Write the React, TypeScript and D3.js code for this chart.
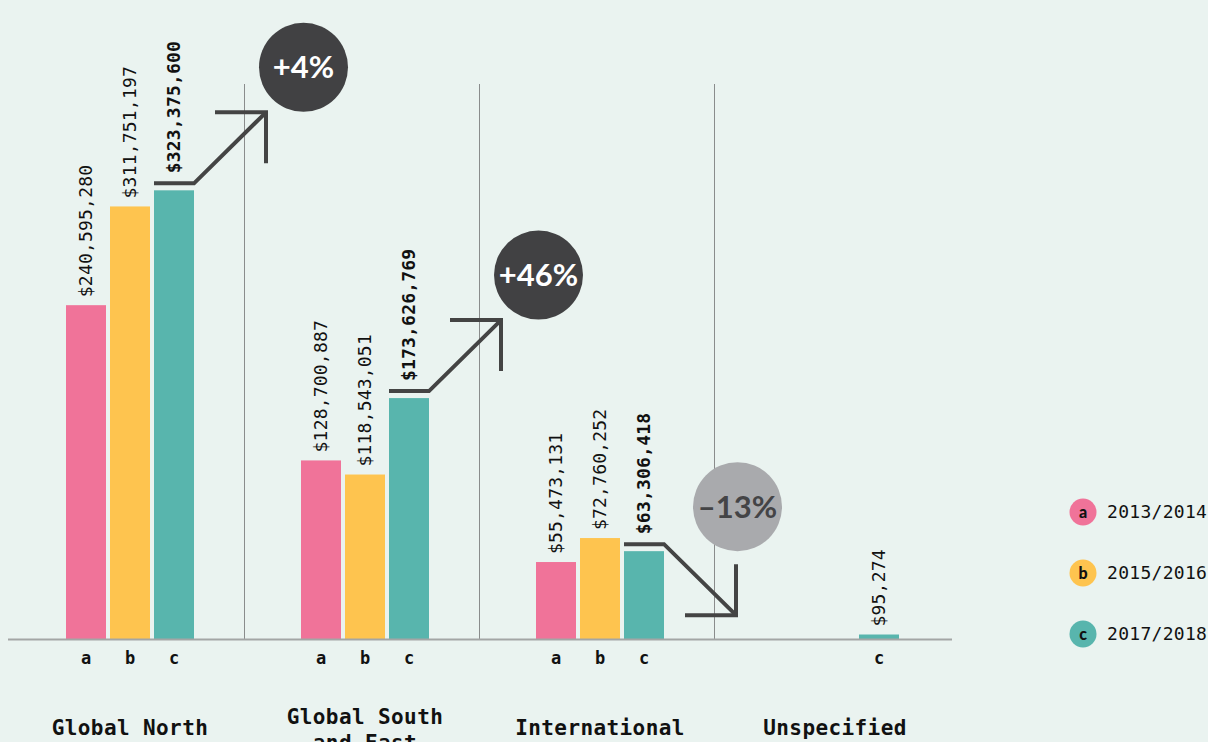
import React from "react";
import * as d3 from "d3";

const groups = ["Global North", "Global South and East", "International", "Unspecified"];
const groupLabelLines = [["Global North"], ["Global South", "and East"], ["International"], ["Unspecified"]];
const periods = ["a", "b", "c"];
const periodLabels = ["2013/2014", "2015/2016", "2017/2018"];
const periodColors = ["#f07399", "#fec44f", "#58b5ad"];
const valuesA: (number | null)[] = [240595280, 128700887, 55473131, null];
const valuesB: (number | null)[] = [311751197, 118543051, 72760252, null];
const valuesC: (number | null)[] = [323375600, 173626769, 63306418, 95274];

const W = 1208;
const H = 742;
const BG = "#eaf3f0";
const MONO = "'DejaVu Sans Mono', 'Liberation Mono', monospace";
const SANS = "Lato, 'Open Sans', sans-serif";

export default function App() {
  const series = [valuesA, valuesB, valuesC];
  const x0 = d3.scaleBand<string>().domain(groups).range([9, 949]).paddingInner(0).paddingOuter(0);
  const x1 = d3.scaleBand<string>().domain(periods).range([0, 128]).paddingInner(4 / 44).paddingOuter(0);
  const y = d3.scaleLinear().domain([0, 400e6]).range([639, 84]);
  const base = y(0);
  const fmt = d3.format("$,");
  const barX = (gi: number, pi: number) => (x0(groups[gi]) as number) + 57 + (x1(periods[pi]) as number);
  const bw = x1.bandwidth();
  const barTop = (v: number) => Math.min(y(v), base - 4.5);

  const bars: React.ReactNode[] = [];
  const labels: React.ReactNode[] = [];
  const arrows: React.ReactNode[] = [];
  const tickLabels: React.ReactNode[] = [];

  groups.forEach((g, gi) => {
    const b = valuesB[gi];
    const c = valuesC[gi];
    const hasArrow = b != null && c != null;
    periods.forEach((p, pi) => {
      const v = series[pi][gi];
      if (v == null) return;
      const bx = barX(gi, pi);
      const top = barTop(v);
      bars.push(
        <rect key={`b${gi}${pi}`} x={bx} y={top} width={bw} height={base - top} fill={periodColors[pi]} />
      );
      const bold = pi === 2 && hasArrow;
      const ly = top - (bold ? 17 : 8);
      const cx = bx + bw / 2;
      labels.push(
        <text
          key={`l${gi}${pi}`}
          transform={`translate(${cx},${ly}) rotate(-90)`}
          dy="0.36em"
          fontFamily={MONO}
          fontSize={18}
          fontWeight={bold ? 700 : 400}
          letterSpacing={0.2}
          fill="#111"
        >
          {fmt(v)}
        </text>
      );
      tickLabels.push(
        <text key={`t${gi}${pi}`} x={cx} y={664} textAnchor="middle" fontFamily={MONO} fontSize={17} fontWeight={700} fill="#111">
          {p}
        </text>
      );
    });
    if (hasArrow) {
      const cTop = barTop(c as number);
      const tx0 = barX(gi, 2);
      const tx1 = tx0 + bw;
      const ty = cTop - 7;
      const up = (c as number) >= (b as number);
      const ax = tx1 + 72;
      const ay = up ? ty - 71 : ty + 71;
      const pct = Math.round(((c as number) / (b as number) - 1) * 100);
      const txt = (pct >= 0 ? "+" : "\u2013") + Math.abs(pct) + "%";
      const ccx = up ? ax + 37.5 : ax + 1.5;
      const ccy = up ? ay - 45 : ay - 108.5;
      arrows.push(
        <g key={`a${gi}`}>
          <path
            d={`M${tx0},${ty}H${tx1}L${ax},${ay}`}
            fill="none"
            stroke="#444"
            strokeWidth={4}
            strokeLinejoin="miter"
          />
          <path
            d={`M${ax - 51},${ay}H${ax}V${up ? ay + 51 : ay - 51}`}
            fill="none"
            stroke="#444"
            strokeWidth={4}
            strokeLinejoin="miter"
          />
          <circle cx={ccx} cy={ccy} r={44.5} fill={up ? "#414143" : "#a9aaad"} />
          <text
            x={ccx}
            y={ccy}
            dy="0.36em"
            textAnchor="middle"
            fontFamily={SANS}
            fontSize={31}
            fontWeight={700}
            fill={up ? "#ffffff" : "#444446"}
          >
            {txt}
          </text>
        </g>
      );
    }
  });

  const seps = groups.slice(1).map((g) => x0(g) as number);

  return (
    <div style={{ position: "fixed", left: 0, top: 0, width: W, height: H, overflow: "hidden" }}>
      <svg width={W} height={H} style={{ display: "block" }}>
        <rect x={0} y={0} width={W} height={H} fill={BG} />
        {seps.map((sx, i) => (
          <line key={`s${i}`} x1={sx + 0.5} x2={sx + 0.5} y1={y(400e6)} y2={base} stroke="#8a8c8c" strokeWidth={1} />
        ))}
        {bars}
        <line x1={8} x2={952} y1={base + 0.5} y2={base + 0.5} stroke="#a3a6a5" strokeWidth={2} />
        {labels}
        {arrows}
        {tickLabels}
        {groupLabelLines.map((lines, gi) => {
          const cx = (x0(groups[gi]) as number) + 57 + 64;
          const y0 = lines.length > 1 ? 724 : 735;
          return (
            <text key={`g${gi}`} textAnchor="middle" fontFamily={MONO} fontSize={21} fontWeight={700} fill="#111" letterSpacing={0.4}>
              {lines.map((ln, li) => (
                <tspan key={li} x={cx} y={y0 + li * 26}>
                  {ln}
                </tspan>
              ))}
            </text>
          );
        })}
        {periods.map((p, i) => {
          const cy = 512 + i * 61;
          return (
            <g key={`lg${i}`}>
              <circle cx={1083} cy={cy} r={13.5} fill={periodColors[i]} />
              <text x={1083} y={cy} dy="0.36em" textAnchor="middle" fontFamily={SANS} fontSize={16} fontWeight={900} fill="#111">
                {p}
              </text>
              <text x={1107} y={cy} dy="0.36em" fontFamily={MONO} fontSize={18} fill="#111" letterSpacing={0.3}>
                {periodLabels[i]}
              </text>
            </g>
          );
        })}
      </svg>
    </div>
  );
}
